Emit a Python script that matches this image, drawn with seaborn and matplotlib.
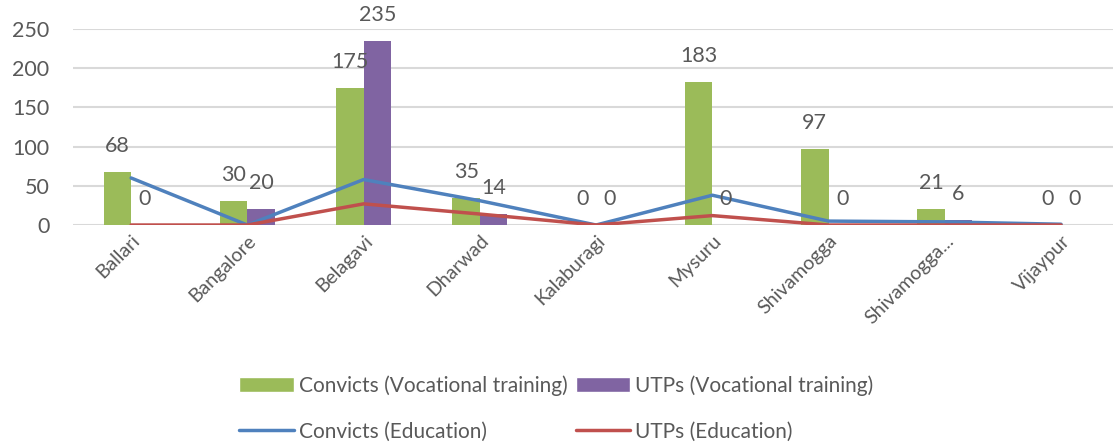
import matplotlib
matplotlib.use("Agg")
import matplotlib.pyplot as plt
from matplotlib.patches import Patch
from matplotlib.lines import Line2D
import numpy as np
import pandas as pd
import seaborn as sns

# Districts on the x axis
districts = ["Ballari", "Bangalore", "Belagavi", "Dharwad", "Kalaburagi",
             "Mysuru", "Shivamogga", "Shivamogga...", "Vijaypur"]

# Vocational training (bars)
convicts_vocational = [68, 30, 175, 35, 0, 183, 97, 21, 0]
utps_vocational = [0, 20, 235, 14, 0, 0, 0, 6, 0]

# Education (lines)
convicts_education = [60, 0, 58, 31, 0, 38, 5, 4, 1]
utps_education = [0, 0, 27, 14, 0, 12, 0, 0, 0]

y_ticks = [0, 50, 100, 150, 200, 250]

GREEN = "#9BBB59"
PURPLE = "#8064A2"
BLUE = "#4F81BD"
RED = "#C0504D"
TEXT = "#595959"

sns.set_theme(style="white")
plt.rcParams["font.family"] = ["Lato", "DejaVu Sans"]

bar_df = pd.DataFrame({
    "district": districts * 2,
    "value": convicts_vocational + utps_vocational,
    "series": ["Convicts (Vocational training)"] * len(districts)
              + ["UTPs (Vocational training)"] * len(districts),
})

fig = plt.figure(figsize=(11.13, 4.44), dpi=100)
ax = fig.add_axes([0.0656, 0.4932, 0.9344, 0.4415])

sns.barplot(data=bar_df, x="district", y="value", hue="series",
            palette=[GREEN, PURPLE], width=0.472, gap=0, saturation=1,
            linewidth=0, legend=False, ax=ax, zorder=2)

pos = np.arange(len(districts))
sns.lineplot(x=pos, y=convicts_education, color=BLUE, linewidth=2.5,
             ax=ax, zorder=3)
sns.lineplot(x=pos, y=utps_education, color=RED, linewidth=2.5,
             ax=ax, zorder=3)

# Value labels above each bar
offset = 0.118
for i in range(len(districts)):
    for dx, vals in ((-offset, convicts_vocational), (offset, utps_vocational)):
        ax.annotate(str(vals[i]), xy=(i + dx, vals[i]), xytext=(0, 26),
                    textcoords="offset pixels", ha="center", va="center",
                    fontsize=15.5, color=TEXT, zorder=4)

ax.set_xlim(-0.5, 8.447)
ax.set_ylim(0, 250)
ax.set_yticks(y_ticks)
ax.set_yticklabels([str(t) for t in y_ticks], fontsize=15.5, color=TEXT)
ax.grid(axis="y", color="#D9D9D9", linewidth=1.5, zorder=0)
ax.set_axisbelow(True)
for s in ax.spines.values():
    s.set_visible(False)
ax.tick_params(axis="y", length=0, pad=17)
ax.tick_params(axis="x", length=0, pad=5)
ax.set_xticks(pos)
ax.set_xticklabels(districts, rotation=45, ha="right", rotation_mode="anchor",
                   fontsize=14, color=TEXT)
ax.set_xlabel("")
ax.set_ylabel("")

handles = [
    Patch(facecolor=GREEN, label="Convicts (Vocational training)"),
    Line2D([0], [0], color=BLUE, linewidth=2.5, label="Convicts (Education)"),
    Patch(facecolor=PURPLE, label="UTPs (Vocational training)"),
    Line2D([0], [0], color=RED, linewidth=2.5, label="UTPs (Education)"),
]
leg = fig.legend(handles=handles, ncol=2, loc="upper center",
                 bbox_to_anchor=(0.5, 0.197), frameon=False, fontsize=15,
                 handlelength=2.6, handleheight=0.75, handletextpad=0.25,
                 columnspacing=0.4, labelspacing=1.25)
for t in leg.get_texts():
    t.set_color(TEXT)

fig.savefig("out.png", dpi=100)
